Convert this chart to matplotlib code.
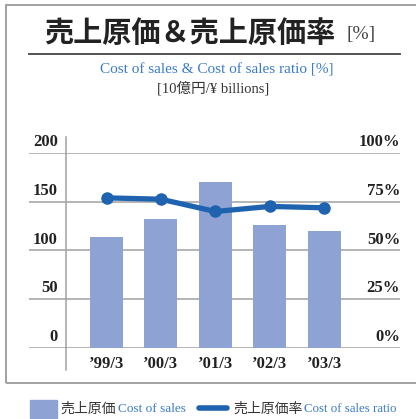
import matplotlib.pyplot as plt
from matplotlib.patches import Rectangle
from matplotlib.lines import Line2D
from matplotlib.transforms import blended_transform_factory, offset_copy
import numpy as np

# data
periods = ['\u201999/3', '\u201900/3', '\u201901/3', '\u201902/3', '\u201903/3']
cost_of_sales = [113.9, 132.4, 169.8, 126.2, 120.1]   # 10億円
cost_ratio = [77.0, 76.3, 70.0, 72.6, 71.9]          # %
left_ticks = [0, 50, 100, 150, 200]
right_ticks = [0, 25, 50, 75, 100]

bar_color = '#8ea3d3'
line_color = '#1f63b0'
blue_text = '#3a7bc8'
serif = 'Liberation Serif'
jp = 'Noto Sans CJK JP'

W, H = 416, 419
fig = plt.figure(figsize=(W / 100, H / 100), dpi=100)

def fx(px):
    return px / W

def fy(py):
    return 1 - py / H

# outer frame (right side runs off the picture)
fig.patches.append(Rectangle((fx(6), fy(383)), fx(420) - fx(6), fy(5) - fy(383),
                             transform=fig.transFigure, fill=False,
                             edgecolor='#9a9a9a', lw=1.3))

# titles
fig.text(fx(44), fy(33), '売上原価＆売上原価率', family=jp, weight='bold',
         fontsize=21, color='#222222', ha='left', va='center')
fig.text(fx(347), fy(35), '[%]', family=serif, fontsize=14, color='#444444',
         ha='left', va='center')
fig.lines.append(Line2D([fx(29), fx(400)], [fy(54.5), fy(54.5)],
                        transform=fig.transFigure, color='#444444', lw=1.3))
fig.text(fx(217), fy(70), 'Cost of sales & Cost of sales ratio [%]', family=serif,
         fontsize=11, color=blue_text, ha='center', va='center')
fig.text(fx(213), fy(88), '[10億円/¥ billions]', family=[serif, jp],
         fontsize=10.5, color='#333333', ha='center', va='center')

# main axes
ax = fig.add_axes([fx(29), fy(348), fx(400) - fx(29), fy(153) - fy(348)])
x = np.arange(len(periods))
ax.bar(x, cost_of_sales, width=0.607, color=bar_color, zorder=2)
ax.set_xlim(-1.425, 5.395)
ax.set_ylim(0, 200)
for v in left_ticks:
    ax.axhline(v, color='#a0a0a0', lw=1.1, zorder=1)
ax.axvline(-0.745, ymin=-0.113, ymax=1.082, color='#a0a0a0', lw=1.1, clip_on=False)
for s in ax.spines.values():
    s.set_visible(False)
ax.set_yticks([])
ax.set_xticks(x)
ax.set_xticklabels(periods, family=serif, weight='bold', fontsize=12, color='#222222')
ax.tick_params(axis='x', length=0, pad=6)

tl = offset_copy(blended_transform_factory(ax.transAxes, ax.transData), fig=fig,
                 y=2, units='points')
for v in left_ticks:
    ax.text(0.078, v, str(v), transform=tl, ha='right', va='bottom',
            family=serif, weight='bold', fontsize=12, color='#222222')

ax2 = ax.twinx()
ax2.set_ylim(0, 100)
ax2.plot(x, cost_ratio, color=line_color, lw=3.8, marker='o', markersize=8,
         solid_capstyle='round', zorder=3)
for s in ax2.spines.values():
    s.set_visible(False)
ax2.set_yticks([])
tr = offset_copy(blended_transform_factory(ax2.transAxes, ax2.transData), fig=fig,
                 y=2, units='points')
for v in right_ticks:
    ax2.text(1.0, v, f'{v}%', transform=tr, ha='right', va='bottom',
             family=serif, weight='bold', fontsize=12, color='#222222')

# legend drawn by hand (two-colour labels)
fig.patches.append(Rectangle((fx(30), fy(418)), fx(57) - fx(30), fy(400) - fy(418),
                             transform=fig.transFigure, color=bar_color))
fig.text(fx(60), fy(409), '売上原価', family=jp, fontsize=10, color='#333333',
         ha='left', va='center')
fig.text(fx(118), fy(409), 'Cost of sales', family=serif, fontsize=9.5,
         color=blue_text, ha='left', va='center')
fig.lines.append(Line2D([fx(199), fx(227)], [fy(408), fy(408)],
                        transform=fig.transFigure, color=line_color, lw=4,
                        solid_capstyle='round'))
fig.text(fx(233), fy(409), '売上原価率', family=jp, fontsize=10, color='#333333',
         ha='left', va='center')
fig.text(fx(304), fy(409), 'Cost of sales ratio', family=serif, fontsize=9.3,
         color=blue_text, ha='left', va='center')

fig.savefig('out.png', dpi=100)
